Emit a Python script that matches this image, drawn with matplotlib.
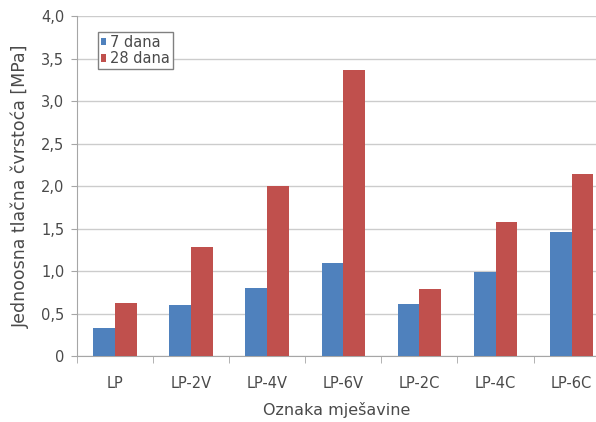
import matplotlib.pyplot as plt
import numpy as np

# data
mixes = ["LP", "LP-2V", "LP-4V", "LP-6V", "LP-2C", "LP-4C", "LP-6C"]
strength_7 = [0.33, 0.60, 0.80, 1.10, 0.62, 0.99, 1.46]
strength_28 = [0.63, 1.29, 2.00, 3.37, 0.79, 1.58, 2.14]
y_ticks = [0, 0.5, 1.0, 1.5, 2.0, 2.5, 3.0, 3.5, 4.0]
y_labels = ["0", "0,5", "1,0", "1,5", "2,0", "2,5", "3,0", "3,5", "4,0"]

plt.rcParams['font.family'] = ['DejaVu Sans']
text_col = '#4a4a4a'
axis_col = '#a6a6a6'

fig = plt.figure(figsize=(5.96, 4.22), dpi=100)
# plot area runs past the right edge of the picture (LP-6C is clipped)
ax = fig.add_axes([0.129, 0.156, 0.871, 0.805])

x = np.arange(len(mixes))
w = 0.285
ax.bar(x - w / 2, strength_7, w, color='#4f81bd', label='7 dana', zorder=3)
ax.bar(x + w / 2, strength_28, w, color='#c0504d', label='28 dana', zorder=3)

ax.set_xlim(-0.5, 6.32)
ax.set_ylim(0, 4.0)
ax.set_yticks(y_ticks)
ax.set_yticklabels(y_labels)
ax.yaxis.grid(True, color='#cccccc', linewidth=1, zorder=0)

# category labels centred, tick marks between categories
ax.set_xticks(x)
ax.set_xticklabels(mixes)
ax.set_xticks(np.arange(len(mixes)) - 0.5, minor=True)
ax.tick_params(axis='x', which='major', length=0, pad=14, labelsize=10.5, labelcolor=text_col)
ax.tick_params(axis='x', which='minor', length=5, color=axis_col, direction='out')
ax.tick_params(axis='y', length=4, color=axis_col, labelsize=10.5, labelcolor=text_col, pad=5)

for s in ['top', 'right']:
    ax.spines[s].set_visible(False)
for s in ['left', 'bottom']:
    ax.spines[s].set_color(axis_col)

ax.set_xlabel('Oznaka mješavine', fontsize=11.5, color=text_col, labelpad=8)
ax.set_ylabel('Jednoosna tlačna čvrstoća [MPa]', fontsize=12.5, color=text_col, labelpad=8)

leg = ax.legend(loc='upper left', bbox_to_anchor=(0.04, 0.955), fontsize=10.5,
                handlelength=0.4, handleheight=0.4, handletextpad=0.25,
                borderpad=0.2, labelspacing=0.1, fancybox=False, framealpha=1,
                edgecolor='#808080', borderaxespad=0)
for t in leg.get_texts():
    t.set_color(text_col)

fig.savefig('out.png', dpi=100, facecolor='white')
